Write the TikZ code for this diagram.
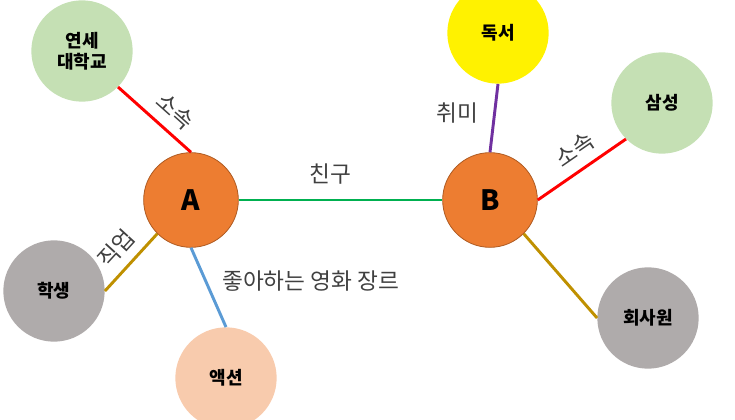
\documentclass[tikz,border=0pt]{standalone}
\usepackage{fontspec}
\setmainfont{Noto Sans CJK KR}
\usepackage{tikz}

\definecolor{nodeorange}{HTML}{ED7D31}
\definecolor{orangeline}{HTML}{AE5A21}
\definecolor{lightgreen}{HTML}{C5E0B4}
\definecolor{lightgray}{HTML}{AFABAB}
\definecolor{peach}{HTML}{F8CBAD}
\definecolor{linered}{HTML}{FF0000}
\definecolor{linegreen}{HTML}{00B050}
\definecolor{linepurple}{HTML}{7030A0}
\definecolor{linegold}{HTML}{BF9000}
\definecolor{lineblue}{HTML}{5B9BD5}
\definecolor{labeltext}{HTML}{404040}

\begin{document}
\begin{tikzpicture}[x=0.75pt,y=-0.75pt,
        circ/.style={shape=circle,minimum size=76pt,inner sep=0pt,align=center,
            font=\bfseries\fontsize{13.5}{16}\selectfont},
        person/.style={circ,minimum size=71pt,fill=nodeorange,draw=orangeline,line width=0.6pt,
            font=\bfseries\fontsize{21}{24}\selectfont},
        link/.style={line width=2.2pt},
        lbl/.style={font=\fontsize{17}{19}\selectfont,text=labeltext}]

        	\useasboundingbox (0,0) rectangle (735,420);

        	\node[person] (a) at (191, 200) {A};
        	\node[person] (b) at (490, 200) {B};
        	\node[circ,fill=lightgreen] (y) at (82, 51) {연세\\대학교};
        	\node[circ,fill=yellow] (r) at (498, 33) {독서};
        	\node[circ,fill=lightgreen] (s) at (662, 103) {삼성};
        	\node[circ,fill=lightgray] (h) at (54, 291) {학생};
        	\node[circ,fill=peach] (m) at (226, 378) {액션};
        	\node[circ,fill=lightgray] (w) at (648, 318) {회사원};

        	\path[link,draw=linered] (y.south east) edge node[lbl,sloped,above=3pt,pos=0.6] {소속} (a.north);
        	\path[link,draw=linegreen] (a.east) edge node[lbl,above=7pt,pos=0.45] {친구} (b.west);
        	\path[link,draw=linegold] (a.225) edge node[lbl,sloped,above=3pt,pos=0.5] {직업} (h.east);
        	\path[link,draw=lineblue] (a.south) edge node[lbl,right=8pt,pos=0.42] {좋아하는 영화 장르} (m.north);
        	\path[link,draw=linepurple] (b.north) edge node[lbl,left=8pt,pos=0.58] {취미} (r.south);
        	\path[link,draw=linered] (b.east) edge node[lbl,sloped,above=3pt,pos=0.55] {소속} (s.south west);
        	\path[link,draw=linegold] (b.south east) edge (w.west);

\end{tikzpicture}
\end{document}
